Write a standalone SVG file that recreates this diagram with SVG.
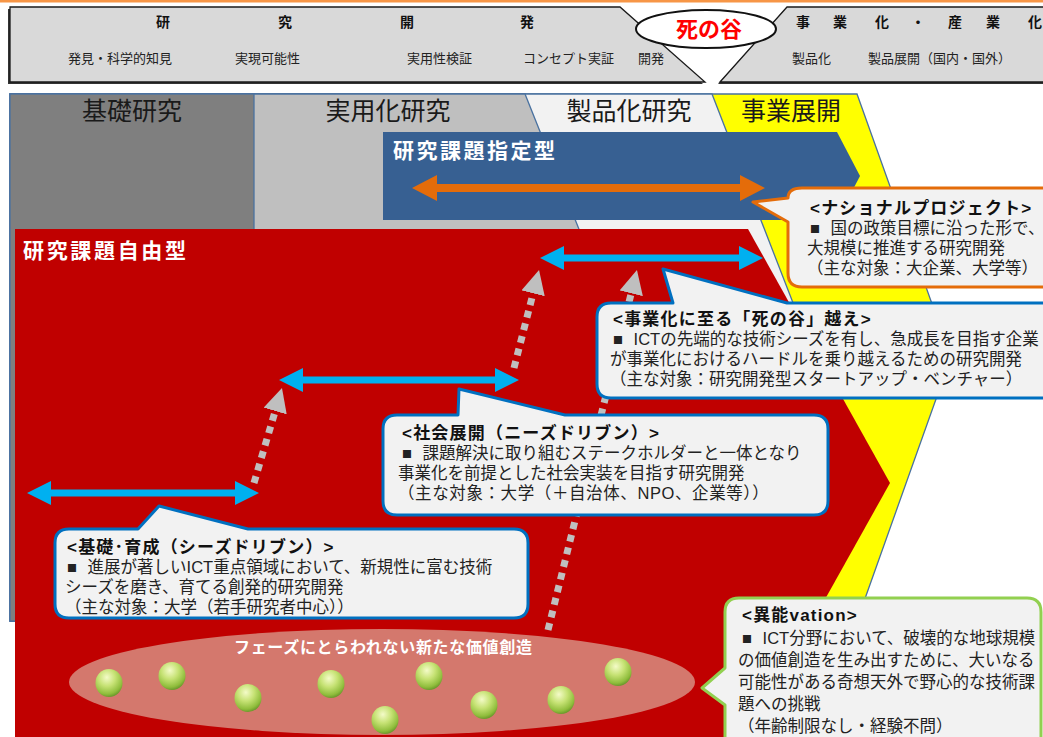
<svg xmlns="http://www.w3.org/2000/svg" width="1043" height="737" viewBox="0 0 1043 737">
<defs>
<style>
text{font-family:"Noto Sans CJK JP","Noto Sans",sans-serif;}
.b1{font-size:14px;font-weight:700;fill:#111;text-anchor:middle;}
.b2{font-size:13px;fill:#222;}
.ph{font-size:25px;fill:#1a1a1a;text-anchor:middle;}
.col{stroke:#4a72a0;stroke-width:1.3;}
.ban{fill:#d9d9d9;stroke:#1a1a1a;stroke-width:1.3;}
.shd{fill:#333;}
.cyan{fill:#00b0f0;}
.dash{fill:none;stroke:#bfbfbf;stroke-width:7;stroke-dasharray:7 6;marker-end:url(#gh);}
.co{fill:#f2f2f2;stroke-width:3;stroke-linejoin:round;}
text.cb{font-family:"Liberation Sans","Noto Sans CJK JP",sans-serif;font-size:16.5px;fill:#222;}
.ct{font-size:17px;font-weight:700;fill:#111;letter-spacing:1.2px;}
.ball{fill:url(#bg);}
</style>
<marker id="gh" markerUnits="userSpaceOnUse" markerWidth="24" markerHeight="24" viewBox="0 0 24 24" refX="0" refY="12" orient="auto">
<path d="M0,0 L24,12 L0,24 Z" fill="#bfbfbf"/>
</marker>
<radialGradient id="bg" cx="0.42" cy="0.3" r="0.7">
<stop offset="0" stop-color="#f4fbc8"/>
<stop offset="0.45" stop-color="#c6e274"/>
<stop offset="0.85" stop-color="#8fbd3c"/>
<stop offset="1" stop-color="#6c9a2c"/>
</radialGradient>
</defs>

<rect x="0" y="0" width="1043" height="2.5" fill="#f79646"/>

<g id="banner">
<polygon class="shd" points="8,9 618,9 703,84 8,84"/>
<polygon class="ban" points="10,7 620,7 705,82 10,82"/>
<polygon class="shd" points="718,84 785,9 1050,9 1050,84"/>
<polygon class="ban" points="720,82 787,7 1050,7 1050,82"/>
<text class="b1" x="163" y="27">研</text>
<text class="b1" x="285" y="27">究</text>
<text class="b1" x="407" y="27">開</text>
<text class="b1" x="527" y="27">発</text>
<text class="b1" x="803" y="27">事</text>
<text class="b1" x="840" y="27">業</text>
<text class="b1" x="882" y="27">化</text>
<text class="b1" x="918" y="27">・</text>
<text class="b1" x="955" y="27">産</text>
<text class="b1" x="993" y="27">業</text>
<text class="b1" x="1035" y="27">化</text>
<text class="b2" x="68" y="63">発見・科学的知見</text>
<text class="b2" x="235" y="63">実現可能性</text>
<text class="b2" x="407" y="63">実用性検証</text>
<text class="b2" x="523" y="63">コンセプト実証</text>
<text class="b2" x="638" y="63">開発</text>
<text class="b2" x="792" y="63">製品化</text>
<text class="b2" x="868" y="63">製品展開（国内・国外）</text>
</g>

<g id="valley">
<ellipse cx="706" cy="29" rx="70" ry="19" fill="#fff" stroke="#111" stroke-width="2"/>
<text x="709" y="37" font-size="22" font-weight="700" fill="#ff0000" text-anchor="middle">死の谷</text>
</g>

<g id="phases">
<polygon class="col" fill="#ffff00" points="10,94 857,94 951,357 857,621 10,621"/>
<polygon class="col" fill="#f2f2f2" points="10,94 712,94 814,357 712,621 10,621"/>
<polygon class="col" fill="#bfbfbf" points="10,94 525,94 630,357 525,621 10,621"/>
<rect class="col" x="10" y="94" width="244" height="527" fill="#7f7f7f"/>
<text class="ph" x="132" y="120">基礎研究</text>
<text class="ph" x="388" y="120">実用化研究</text>
<text class="ph" x="629" y="120">製品化研究</text>
<text class="ph" x="791" y="120">事業展開</text>
</g>

<g id="designated">
<polygon points="383,132 837,132 860,176 837,220 383,220" fill="#376092"/>
<text x="393" y="158" font-size="21" font-weight="700" fill="#fff" textLength="162">研究課題指定型</text>
</g>

<g id="free">
<polygon points="15,229 748,229 890,483 748,737 15,737" fill="#c00000"/>
<text x="23" y="258" font-size="21" font-weight="700" fill="#fff" textLength="163">研究課題自由型</text>
</g>

<g id="newvalue">
<ellipse cx="382" cy="682" rx="313" ry="53" fill="#d4786d"/>
<text x="234" y="653" font-size="16" font-weight="700" fill="#fff" textLength="298">フェーズにとらわれない新たな価値創造</text>
<ellipse class="ball" cx="109" cy="683" rx="13.5" ry="14"/>
<ellipse class="ball" cx="172" cy="676" rx="13.5" ry="14"/>
<ellipse class="ball" cx="248" cy="698" rx="13.5" ry="14"/>
<ellipse class="ball" cx="331" cy="684" rx="13.5" ry="14"/>
<ellipse class="ball" cx="429" cy="676" rx="13.5" ry="14"/>
<ellipse class="ball" cx="385" cy="720" rx="13.5" ry="14"/>
<ellipse class="ball" cx="484" cy="705" rx="13.5" ry="14"/>
<ellipse class="ball" cx="561" cy="700" rx="13.5" ry="14"/>
<ellipse class="ball" cx="618" cy="672" rx="13.5" ry="14"/>
</g>

<g id="connectors">
<path fill="#e46c0a" d="M412,188 L437,175 L437,184 L740,184 L740,175 L765,188 L740,201 L740,192 L437,192 L437,201 Z"/>
<path class="cyan" d="M27,493 L51,481 L51,489.5 L235,489.5 L235,481 L259,493 L235,505 L235,496.5 L51,496.5 L51,505 Z"/>
<path class="cyan" d="M279,380 L303,368 L303,376.5 L495,376.5 L495,368 L519,380 L495,392 L495,383.5 L303,383.5 L303,392 Z"/>
<path class="cyan" d="M540,258 L564,246 L564,254.5 L739,254.5 L739,246 L763,258 L739,270 L739,261.5 L564,261.5 L564,270 Z"/>
<line class="dash" x1="254" y1="483" x2="275.2" y2="411"/>
<line class="dash" x1="514" y1="368" x2="533.1" y2="293.3"/>
<line class="dash" x1="548" y1="630" x2="631.2" y2="293.3"/>
</g>

<g id="callout-national">
<path class="co" stroke="#e46c0a" d="M802,188 H1052 V287 H802 Q788,287 788,273 V222 L753,202 L788,198 Q788,188 802,188 Z"/>
<text class="cb"><tspan class="ct" x="810" y="214">&lt;ナショナルプロジェクト&gt;</tspan><tspan x="810" y="234">■<tspan dx="6"> 国の政策目標に沿った形で、</tspan></tspan><tspan x="807" y="254">大規模に推進する研究開発</tspan><tspan x="807" y="274">（主な対象：大企業、大学等）</tspan></text>
</g>

<g id="callout-valley">
<path class="co" stroke="#0070c0" d="M611,303 H673 L663,269 L787,303 H1052 V398 H611 Q597,398 597,384 V317 Q597,303 611,303 Z"/>
<text class="cb"><tspan class="ct" x="613" y="325">&lt;事業化に至る「死の谷」越え&gt;</tspan><tspan x="613" y="345">■<tspan dx="6"> ICTの先端的な技術シーズを有し、急成長を目指す企業</tspan></tspan><tspan x="610" y="365">が事業化におけるハードルを乗り越えるための研究開発</tspan><tspan x="610" y="385">（主な対象：研究開発型スタートアップ・ベンチャー）</tspan></text>
</g>

<g id="callout-social">
<path class="co" stroke="#0070c0" d="M397,415 H458 L459,389 L565,415 H814 Q828,415 828,429 V501 Q828,515 814,515 H397 Q383,515 383,501 V429 Q383,415 397,415 Z"/>
<text class="cb"><tspan class="ct" x="402" y="439">&lt;社会展開（ニーズドリブン）&gt;</tspan><tspan x="402" y="459">■<tspan dx="6"> 課題解決に取り組むステークホルダーと一体となり</tspan></tspan><tspan x="398" y="479">事業化を前提とした社会実装を目指す研究開発</tspan><tspan x="398" y="499" letter-spacing="0.6">（主な対象：大学（＋自治体、NPO、企業等））</tspan></text>
</g>

<g id="callout-basic">
<path class="co" stroke="#0070c0" d="M69,529 H138 L159,506 L248,529 H514 Q528,529 528,543 V604 Q528,618 514,618 H69 Q55,618 55,604 V543 Q55,529 69,529 Z"/>
<text class="cb"><tspan class="ct" x="67" y="553">&lt;基礎･育成（シーズドリブン）&gt;</tspan><tspan x="67" y="573">■<tspan dx="6"> 進展が著しいICT重点領域において、新規性に富む技術</tspan></tspan><tspan x="65" y="593">シーズを磨き、育てる創発的研究開発</tspan><tspan x="65" y="613">（主な対象：大学（若手研究者中心））</tspan></text>
</g>

<g id="callout-inno">
<path class="co" stroke="#92d050" d="M739,598 H1027 Q1041,598 1041,612 V745 H725 V705 L702,688 L725,668 V612 Q725,598 739,598 Z"/>
<text class="cb"><tspan class="ct" x="742" y="621">&lt;異能vation&gt;</tspan><tspan x="742" y="644">■<tspan dx="6"> ICT分野において、破壊的な地球規模</tspan></tspan><tspan x="738" y="666">の価値創造を生み出すために、大いなる</tspan><tspan x="738" y="688">可能性がある奇想天外で野心的な技術課</tspan><tspan x="738" y="710">題への挑戦</tspan><tspan x="738" y="732">（年齢制限なし・経験不問）</tspan></text>
</g>
</svg>
